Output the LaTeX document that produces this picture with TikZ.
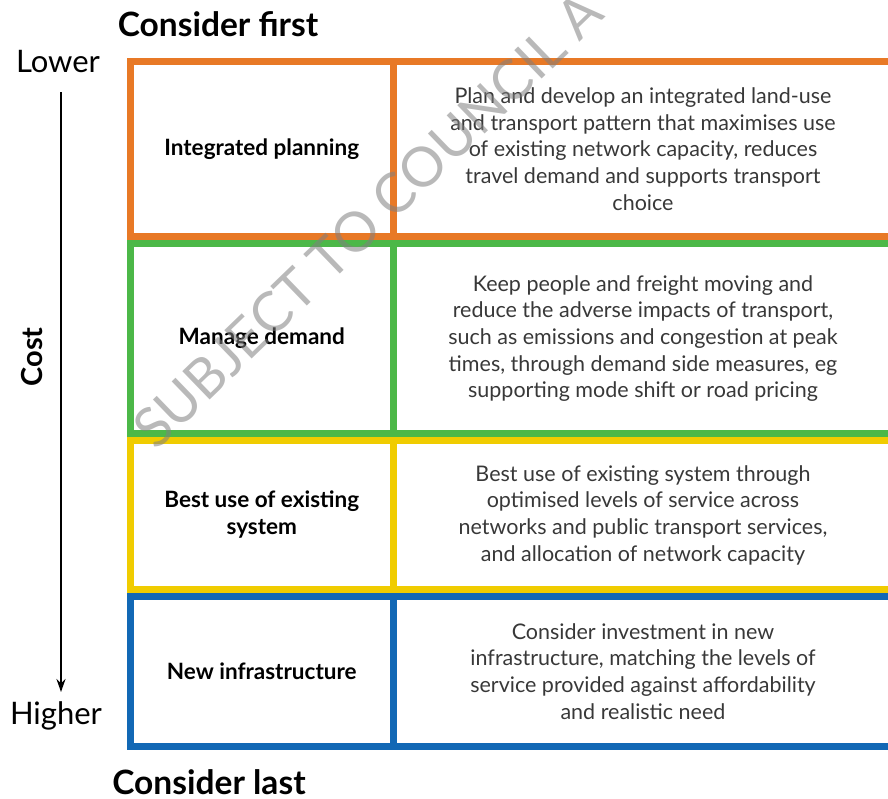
\documentclass[tikz,border=0pt]{standalone}
\usepackage{fontspec}
\setmainfont{Lato}
\usetikzlibrary{arrows.meta}
\definecolor{planorange}{RGB}{232,121,38}
\definecolor{demgreen}{RGB}{76,184,72}
\definecolor{useyellow}{RGB}{240,204,0}
\definecolor{infblue}{RGB}{18,104,181}
\begin{document}
\begin{tikzpicture}[x=1pt,y=-1pt,
  cell/.style={draw=#1, line width=7pt, inner sep=0pt, align=center},
  lab/.style={font=\fontsize{22.5}{27}\selectfont\bfseries},
  desc/.style={font=\fontsize{21.5}{26.7}\selectfont, text=black!78},
  side/.style={font=\fontsize{31}{34}\selectfont}]
\useasboundingbox (0,0) rectangle (888,798);
\clip (0,0) rectangle (888,798);
%\draw[very thin, gray] (0,0) grid[step=50] (888,798);
\node[font=\fontsize{33.5}{36}\selectfont\bfseries] (first) at (218,24) {Consider first};
\node[font=\fontsize{33.5}{36}\selectfont\bfseries] (last) at (209,782) {Consider last};
\node[side] (lower) at (58,62) {Lower};
\node[side] (higher) at (56,716) {Higher};
\node[font=\fontsize{29}{32}\selectfont\bfseries, rotate=90] (cost) at (32,357) {Cost};
\coordinate (ctop) at (61,92);
\coordinate (cbot) at (61,692);
\draw[line width=2.5pt, -{Stealth[length=13pt,width=9pt]}] (ctop)--(cbot);
% rows
\node[cell=planorange, lab, minimum width=262.5pt, minimum height=175pt] (ip) at (261.75,149) {Integrated planning};
\node[cell=planorange, desc, minimum width=500pt, minimum height=175pt] (ipd) at (643,149)
  {Plan and develop an integrated land-use\\ and transport pattern that maximises use\\ of existing network capacity, reduces\\ travel demand and supports transport\\ choice};
\node[cell=demgreen, lab, minimum width=262.5pt, minimum height=190pt] (md) at (261.75,338.5) {Manage demand};
\node[cell=demgreen, desc, minimum width=500pt, minimum height=190pt] (mdd) at (643,338.5)
  {Keep people and freight moving and\\ reduce the adverse impacts of transport,\\ such as emissions and congestion at peak\\ times, through demand side measures, eg\\ supporting mode shift or road pricing};
\node[cell=useyellow, lab, minimum width=262.5pt, minimum height=149pt] (bu) at (261.75,515) {Best use of existing\\ system};
\node[cell=useyellow, desc, minimum width=500pt, minimum height=149pt] (bud) at (643,515)
  {Best use of existing system through\\ optimised levels of service across\\ networks and public transport services,\\ and allocation of network capacity};
\node[cell=infblue, lab, minimum width=262.5pt, minimum height=150pt] (ni) at (261.75,671.5) {New infrastructure};
\node[cell=infblue, desc, minimum width=500pt, minimum height=150pt] (nid) at (643,671.5)
  {Consider investment in new\\ infrastructure, matching the levels of\\ service provided against affordability\\ and realistic need};
% watermark
\node[rotate=44, anchor=base west, inner sep=0pt, text=gray, opacity=0.55,
  font=\fontsize{55}{55}\selectfont] (wm) at (156,452) {SUBJECT TO COUNCIL A};
\end{tikzpicture}
\end{document}
